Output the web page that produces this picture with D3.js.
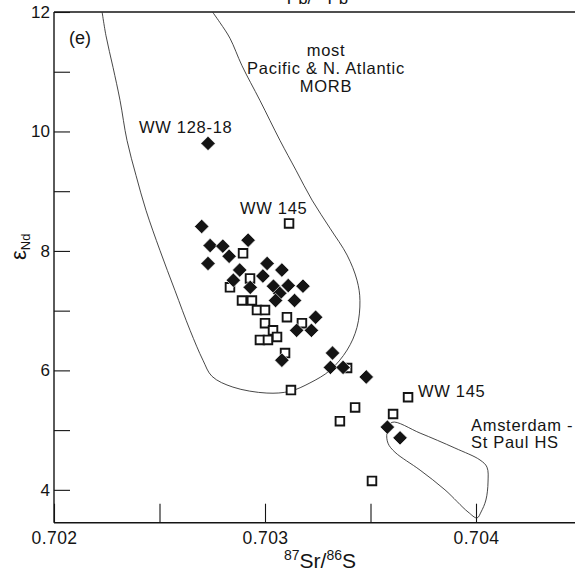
<!DOCTYPE html>
<html>
<head>
<meta charset="utf-8">
<script src="https://cdn.jsdelivr.net/npm/d3@7"></script>
<style>
  html, body { margin: 0; padding: 0; background: #fff; }
  svg { display: block; font-family: "Liberation Sans", Arial, Helvetica, sans-serif; }
</style>
</head>
<body>
<svg id="chart" width="575" height="574"></svg>
<script>
// 87Sr/86Sr vs eNd, panel (e)

// Filled diamonds: [87Sr/86Sr, eNd]
const diamondSr = [0.70273, 0.70270, 0.70274, 0.70280, 0.70292, 0.70273, 0.70283, 0.70288,
  0.70301, 0.70308, 0.70285, 0.70299, 0.70293, 0.70304, 0.70311, 0.70318, 0.70307, 0.70305,
  0.70314, 0.70324, 0.70315, 0.70322, 0.70308, 0.70332, 0.70331, 0.70337, 0.70348, 0.70358, 0.70364];
const diamondNd = [9.80, 8.41, 8.09, 8.08, 8.18, 7.79, 7.91, 7.68,
  7.79, 7.68, 7.51, 7.58, 7.39, 7.41, 7.42, 7.41, 7.29, 7.17,
  7.17, 6.89, 6.67, 6.67, 6.17, 6.29, 6.05, 6.05, 5.89, 5.05, 4.87];

// Open squares: [87Sr/86Sr, eNd]
const squareSr = [0.703114, 0.702896, 0.702929, 0.702834, 0.702891, 0.702938, 0.702962, 0.703000,
  0.703000, 0.703038, 0.702976, 0.703014, 0.703057, 0.703104, 0.703175, 0.703095, 0.703123,
  0.703389, 0.703678, 0.703427, 0.703355, 0.703607, 0.703507];
const squareNd = [8.46, 7.96, 7.54, 7.39, 7.17, 7.17, 7.01, 7.01,
  6.79, 6.67, 6.51, 6.51, 6.56, 6.89, 6.79, 6.29, 5.67,
  6.04, 5.55, 5.38, 5.15, 5.27, 4.15];

// Field outline: most Pacific & N. Atlantic MORB
const morbSr = [0.702223, 0.702246, 0.702280, 0.702313, 0.702346, 0.702389, 0.702436, 0.702502,
  0.702573, 0.702645, 0.702706, 0.702749, 0.702848, 0.703009, 0.703118, 0.703213, 0.703308,
  0.703389, 0.703436, 0.703450, 0.703436, 0.703389, 0.703308, 0.703223, 0.703147, 0.703071,
  0.702976, 0.702891, 0.702834, 0.702787, 0.702739];
const morbNd = [12.12, 11.61, 11.07, 10.52, 9.85, 9.26, 8.68, 8.01,
  7.34, 6.67, 6.17, 5.90, 5.72, 5.62, 5.65, 5.79, 6.00,
  6.34, 6.72, 7.17, 7.51, 7.93, 8.38, 8.85, 9.35, 9.85,
  10.52, 11.10, 11.56, 11.82, 12.06];

// Field outline: Amsterdam-St Paul hotspot
const amsSr = [0.703602, 0.703735, 0.703900, 0.704019, 0.704052, 0.704057, 0.704047, 0.704024,
  0.704005, 0.703962, 0.703853, 0.703735, 0.703616, 0.703583, 0.703578];
const amsNd = [5.13, 4.95, 4.70, 4.50, 4.38, 4.13, 3.83, 3.63,
  3.53, 3.63, 4.00, 4.33, 4.63, 4.78, 4.95];

const xTickValues = [0.702, 0.7025, 0.703, 0.7035, 0.704, 0.7045];
const xTickLabels = ["0.702", "", "0.703", "", "0.704", ""];
const yTickValues = [4, 5, 6, 7, 8, 9, 10, 11, 12];
const yTickLabels = ["4", "", "6", "", "8", "", "10", "", "12"];

const svg = d3.select("#chart");
const W = 575;
const padL = 54, padT = 12, padB = 522.7;

const x = d3.scaleLinear().domain([0.702, 0.7045]).range([padL, padL + 211 * 2.5]);
const y = d3.scaleLinear().domain([10 - (padB - 131) / 59.8, 12]).range([padB, padT]);

const ink = "#141414";
const fs = 16.5;
const ls = 0.7;

svg.append("defs").append("clipPath").attr("id", "plotClip")
  .append("rect").attr("x", padL).attr("y", padT).attr("width", W - padL).attr("height", padB - padT);

// Title of the panel above, cut by the top edge
const above = svg.append("text").attr("x", 310).attr("y", 4).attr("text-anchor", "middle")
  .attr("font-size", 17).attr("fill", ink);
above.append("tspan").attr("font-size", 9).attr("dy", -9).text("206");
above.append("tspan").attr("dy", 9).text("Pb/");
above.append("tspan").attr("font-size", 9).attr("dy", -9).text("204");
above.append("tspan").attr("dy", 9).text("Pb");

// Axes
const xAxis = d3.axisBottom(x).tickValues(xTickValues)
  .tickFormat((d, i) => xTickLabels[i]).tickSize(-19).tickPadding(9);
const gx = svg.append("g").attr("transform", `translate(0,${padB})`).call(xAxis);
gx.select(".domain").remove();
gx.selectAll("line").attr("stroke", ink).attr("stroke-width", 1.1);
gx.selectAll("text").attr("font-size", 17.5).attr("letter-spacing", 0.4)
  .attr("fill", ink).attr("dy", "0.71em");

const yAxis = d3.axisLeft(y).tickValues(yTickValues)
  .tickFormat((d, i) => yTickLabels[i]).tickSize(-16).tickPadding(4);
const gy = svg.append("g").attr("transform", `translate(${padL},0)`).call(yAxis);
gy.select(".domain").remove();
gy.selectAll("line").attr("stroke", ink).attr("stroke-width", 1.1);
gy.selectAll("text").attr("font-size", 17).attr("fill", ink);

// Frame lines
svg.append("line").attr("x1", padL).attr("x2", W).attr("y1", padT).attr("y2", padT)
  .attr("stroke", ink).attr("stroke-width", 1.4);
svg.append("line").attr("x1", padL).attr("x2", padL).attr("y1", padT).attr("y2", padB)
  .attr("stroke", ink).attr("stroke-width", 1.4);
svg.append("line").attr("x1", padL).attr("x2", W).attr("y1", padB).attr("y2", padB)
  .attr("stroke", ink).attr("stroke-width", 1.4);

const plot = svg.append("g").attr("clip-path", "url(#plotClip)");

// Field outlines
const morb = morbSr.map((v, i) => [v, morbNd[i]]);
const ams = amsSr.map((v, i) => [v, amsNd[i]]);
plot.append("path")
  .attr("d", d3.line().x(d => x(d[0])).y(d => y(d[1])).curve(d3.curveCatmullRom.alpha(0.5))(morb))
  .attr("fill", "none").attr("stroke", "#333").attr("stroke-width", 0.9);
plot.append("path")
  .attr("d", d3.line().x(d => x(d[0])).y(d => y(d[1])).curve(d3.curveCatmullRomClosed.alpha(0.5))(ams))
  .attr("fill", "none").attr("stroke", "#333").attr("stroke-width", 0.9);

// Open squares
const squares = squareSr.map((v, i) => [v, squareNd[i]]);
plot.selectAll(".sq").data(squares).join("path").attr("class", "sq")
  .attr("d", d3.symbol().type(d3.symbolSquare).size(74)())
  .attr("transform", d => `translate(${x(d[0])},${y(d[1])})`)
  .attr("fill", "#fff").attr("stroke", ink).attr("stroke-width", 1.9);

// Filled diamonds
const diamonds = diamondSr.map((v, i) => [v, diamondNd[i]]);
plot.selectAll(".dm").data(diamonds).join("path").attr("class", "dm")
  .attr("d", d3.symbol().type(d3.symbolSquare).size(104)())
  .attr("transform", d => `translate(${x(d[0])},${y(d[1])}) rotate(45)`)
  .attr("fill", ink).attr("stroke", "#fff").attr("stroke-width", 0.6);

// Annotations
const note = (tx, ty, str, anchor) => svg.append("text").attr("x", tx).attr("y", ty)
  .attr("font-size", fs).attr("letter-spacing", ls).attr("fill", ink)
  .attr("text-anchor", anchor || "start").text(str);
note(69, 44, "(e)").attr("font-size", 18).attr("letter-spacing", 0);
note(326, 56, "most", "middle");
note(326, 74, "Pacific & N. Atlantic", "middle");
note(326, 92, "MORB", "middle");
note(139, 133, "WW 128-18");
note(240, 214, "WW 145");
note(418, 397, "WW 145");
note(471, 431, "Amsterdam -");
note(471, 448, "St Paul HS");

// Axis titles
const xt = svg.append("text").attr("x", 320).attr("y", 568).attr("text-anchor", "middle")
  .attr("font-size", 21).attr("fill", ink);
xt.append("tspan").attr("font-size", 14).attr("dy", -8).text("87");
xt.append("tspan").attr("dy", 8).text("Sr/");
xt.append("tspan").attr("font-size", 14).attr("dy", -8).text("86");
xt.append("tspan").attr("dy", 8).text("S");

const yt = svg.append("text").attr("transform", "translate(26,260) rotate(-90)")
  .attr("font-size", 22).attr("fill", ink);
yt.append("tspan").text("ε");
yt.append("tspan").attr("font-size", 13).attr("dy", 4).text("Nd");
</script>
</body>
</html>
